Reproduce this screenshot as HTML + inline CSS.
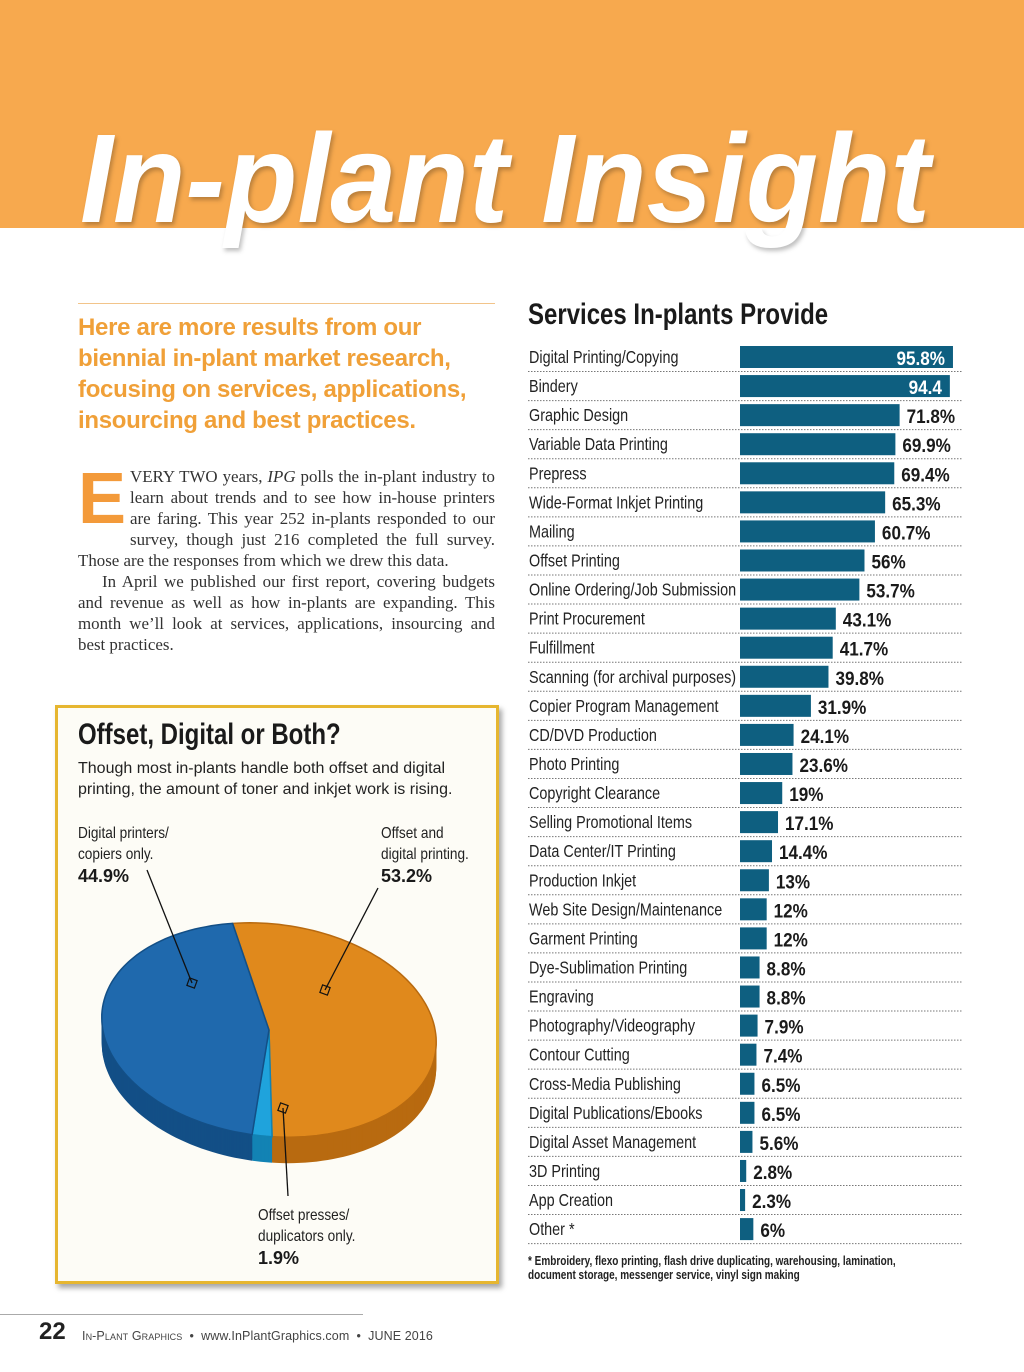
<!DOCTYPE html>
<html><head><meta charset="utf-8"><style>
body{margin:0;background:#fff;}
#page{position:relative;width:1024px;height:1372px;overflow:hidden;background:#fff;font-family:"Liberation Sans",sans-serif;}
.abs{position:absolute;}
.lead{left:78px;top:312px;width:420px;color:#f0a038;font-weight:bold;font-size:24px;line-height:31px;letter-spacing:-0.3px;}
.body{left:78px;top:466px;width:417px;font-family:"Liberation Serif",serif;font-size:16.9px;line-height:21px;color:#333;text-align:justify;}
.cond{transform:scaleX(0.8);transform-origin:0 0;}
</style></head><body>
<div id="page">
<div class="abs" style="left:0;top:0;width:1024px;height:228px;background:#f7a94e"></div>
<svg class="abs" style="left:0;top:0" width="1024" height="280">
<text x="80" y="222" textLength="850" lengthAdjust="spacingAndGlyphs" font-family="Liberation Sans" font-weight="bold" font-style="italic" font-size="126" fill="#fff" style="filter:drop-shadow(2px 3px 2px rgba(0,0,0,0.25))">In-plant Insight</text>
</svg>
<div class="abs" style="left:78px;top:303px;width:417px;height:1px;background:#f2c48a"></div>
<div class="abs lead">Here are more results from our biennial in-plant market research, focusing on services, applications, insourcing and best practices.</div>
<div class="abs body"><span style="float:left;font-family:'Liberation Sans',sans-serif;font-weight:bold;font-size:72px;line-height:62px;color:#f39a3a;margin:2px 4px 0 0">E</span>VERY TWO years, <i>IPG</i> polls the in-plant industry to learn about trends and to see how in-house printers are faring. This year 252 in-plants responded to our survey, though just 216 completed the full survey. Those are the responses from which we drew this data.<br><span style="padding-left:24px">In April we published our first report, covering budgets and revenue as well as how in-plants are expanding. This month we’ll look at services, applications, insourcing and best practices.</span></div>

<div class="abs" style="left:55px;top:705px;width:438px;height:573px;background:#fdfcf6;border:3px solid #e6b630;box-shadow:3px 4px 5px rgba(0,0,0,0.35)"></div>
<div class="abs cond" style="left:78px;top:718px;font-weight:bold;font-size:30px;color:#1a1a1a;white-space:nowrap">Offset, Digital or Both?</div>
<div class="abs" style="left:78px;top:758px;width:410px;font-size:16px;line-height:21px;color:#222">Though most in-plants handle both offset and digital printing, the amount of toner and inkjet work is rising.</div>
<svg class="abs" id="pie" style="left:0;top:0" width="520" height="1300"></svg>

<div class="abs cond" style="left:528px;top:298px;font-weight:bold;font-size:30px;color:#1a1a1a;white-space:nowrap">Services In-plants Provide</div>
<svg class="abs" id="bars" style="left:0;top:0" width="1024" height="1300"></svg>
<div class="abs cond" style="left:528px;top:1254px;width:520px;font-weight:bold;font-size:12.5px;line-height:14px;color:#222">* Embroidery, flexo printing, flash drive duplicating, warehousing, lamination,<br>document storage, messenger service, vinyl sign making</div>

<div class="abs" style="left:0;top:1314px;width:363px;height:1px;background:#aaa"></div>
<div class="abs" style="left:39px;top:1318px;font-weight:bold;font-size:24px;color:#222">22</div>
<div class="abs" style="left:82px;top:1329px;font-size:12.5px;color:#444;letter-spacing:0.1px"><span style="font-variant:small-caps">In-Plant Graphics</span> &nbsp;•&nbsp; www.InPlantGraphics.com &nbsp;•&nbsp; JUNE 2016</div>
</div>
<script>
const NS='http://www.w3.org/2000/svg';
function mk(p,tag,a){const e=document.createElementNS(NS,tag);for(const k in a)e.setAttribute(k,a[k]);p.appendChild(e);return e;}
// ---- bar chart data ----
const categories=["Digital Printing/Copying","Bindery","Graphic Design","Variable Data Printing","Prepress","Wide-Format Inkjet Printing","Mailing","Offset Printing","Online Ordering/Job Submission","Print Procurement","Fulfillment","Scanning (for archival purposes)","Copier Program Management","CD/DVD Production","Photo Printing","Copyright Clearance","Selling Promotional Items","Data Center/IT Printing","Production Inkjet","Web Site Design/Maintenance","Garment Printing","Dye-Sublimation Printing","Engraving","Photography/Videography","Contour Cutting","Cross-Media Publishing","Digital Publications/Ebooks","Digital Asset Management","3D Printing","App Creation","Other *"];
const values=[95.8,94.4,71.8,69.9,69.4,65.3,60.7,56,53.7,43.1,41.7,39.8,31.9,24.1,23.6,19,17.1,14.4,13,12,12,8.8,8.8,7.9,7.4,6.5,6.5,5.6,2.8,2.3,6];
const valueLabels=["95.8%","94.4","71.8%","69.9%","69.4%","65.3%","60.7%","56%","53.7%","43.1%","41.7%","39.8%","31.9%","24.1%","23.6%","19%","17.1%","14.4%","13%","12%","12%","8.8%","8.8%","7.9%","7.4%","6.5%","6.5%","5.6%","2.8%","2.3%","6%"];
const bars=document.getElementById('bars');
const x0=740,xs=v=>v*2.223,rowY=i=>357+i*29.07;
categories.forEach((c,i)=>{
  const y=rowY(i);
  const t=mk(bars,'text',{x:0,y:0,transform:`translate(529,${y+6}) scale(0.8,1)`,'font-family':'Liberation Sans, sans-serif','font-size':18,fill:'#222'});
  t.textContent=c;
  
  
  const r=mk(bars,'rect',{x:x0,y:y-11,width:xs(values[i]),height:22,fill:'#0e5f80'});
  
  
  const inside=values[i]>90;
  const vx=inside?x0+xs(values[i])-8:x0+xs(values[i])+7;
  const v=mk(bars,'text',{x:0,y:0,transform:`translate(${vx},${y+8}) scale(0.9,1)`,'text-anchor':inside?'end':'start','font-family':'Liberation Sans, sans-serif','font-weight':'bold','font-size':19,fill:inside?'#fff':'#1a1a1a'});
  v.textContent=valueLabels[i];
  
  
  const l=mk(bars,'line',{x1:528,x2:962,y1:y+14.5,y2:y+14.5,stroke:'#777','stroke-width':1,'stroke-dasharray':'1.5 1.5'});
  
  
});
// ---- pie data ----
const pieLabels=["Offset and digital printing.","Offset presses/ duplicators only.","Digital printers/ copiers only."];
const pieValues=[53.2,1.9,44.9];
const pieTop=['#e0891c','#1fa3dc','#1f69ad'];
const pieSide=['#b86a10','#1283b4','#134f86'];
const pie=document.getElementById('pie');
const cx=269,cy=1030,rx=168,ry=106,rot=7*Math.PI/180,depth=26,start=-107;
function pt(a,dy){const t=a*Math.PI/180;const x=rx*Math.cos(t),y=ry*Math.sin(t);return [cx+x*Math.cos(rot)-y*Math.sin(rot),cy+dy+x*Math.sin(rot)+y*Math.cos(rot)];}
function slicePath(a1,a2,dy){let d=`M${cx},${cy+dy}`;for(let a=a1;a<=a2;a+=2){const p=pt(a,dy);d+=`L${p[0].toFixed(1)},${p[1].toFixed(1)}`;}const p=pt(a2,dy);d+=`L${p[0]},${p[1]}Z`;return d;}
const angles=[];let acc=start;pieValues.forEach(v=>{angles.push([acc,acc+v*3.6]);acc+=v*3.6;});
for(let d=depth;d>0;d-=1){angles.forEach((a,i)=>{const p=mk(pie,'path',{d:slicePath(a[0],a[1],d),fill:pieSide[i]});});}
angles.forEach((a,i)=>{const p=mk(pie,'path',{d:slicePath(a[0],a[1],0),fill:pieTop[i],stroke:pieSide[i],'stroke-width':1.5});});
// leader lines and labels (layout positions)
const labelPos=[[381,836],[258,1218],[78,836]];
const lineEnd=[[378,888],[288,1196],[147,870]];
const markerPos=[[325,990],[283,1108],[192,983]];
angles.forEach((a,i)=>{
  const m=markerPos[i];
  const ln=mk(pie,'line',{x1:lineEnd[i][0],y1:lineEnd[i][1],x2:m[0],y2:m[1],stroke:'#111','stroke-width':1.3});
  
  const sq=mk(pie,'rect',{x:m[0]-4,y:m[1]-4,width:8,height:8,fill:'none',stroke:'#111','stroke-width':1.2,transform:`rotate(20 ${m[0]} ${m[1]})`});
  
  const words=pieLabels[i].split(' ');
  const lines=[words.slice(0,2).join(' '),words.slice(2).join(' ')];
  lines.forEach((s,k)=>{const t=mk(pie,'text',{x:0,y:0,transform:`translate(${labelPos[i][0]},${labelPos[i][1]+2+k*21}) scale(0.88,1)`,'font-family':'Liberation Sans, sans-serif','font-size':15.5,fill:'#222'});t.textContent=s;});
  const v=mk(pie,'text',{x:labelPos[i][0],y:labelPos[i][1]+46,'font-family':'Liberation Sans, sans-serif','font-weight':'bold','font-size':18,fill:'#1a1a1a'});
  v.textContent=pieValues[i]+'%';
});
</script>
</body></html>
